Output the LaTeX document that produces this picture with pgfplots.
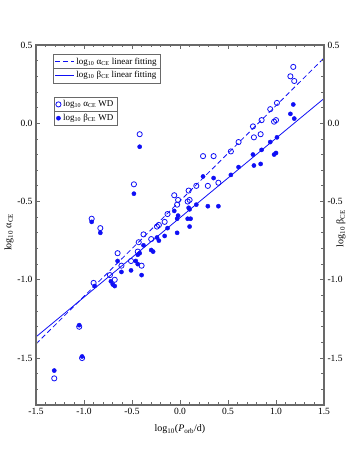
\documentclass[border=0pt]{standalone}
\usepackage{fontspec}
\setmainfont{Liberation Serif}
\usepackage{pgfplots}
\pgfplotsset{compat=1.18}
\definecolor{axgray}{RGB}{105,105,105}
\definecolor{ptblue}{RGB}{15,15,245}
\newcommand{\mylogten}{log\textsubscript{10}}

\pgfplotsset{
  frame/.style={
    scale only axis, width=288pt, height=360pt,
    xmin=-1.5, xmax=1.5, ymin=-1.8, ymax=0.5,
    xtick={-1.5,-1,-0.5,0,0.5,1,1.5},
    ytick={-1.5,-1,-0.5,0,0.5},
    minor xtick={-1.4,-1.3,-1.2,-1.1,-0.9,-0.8,-0.7,-0.6,-0.4,-0.3,-0.2,-0.1,
                 0.1,0.2,0.3,0.4,0.6,0.7,0.8,0.9,1.1,1.2,1.3,1.4},
    minor ytick={-1.7,-1.6,-1.4,-1.3,-1.2,-1.1,-0.9,-0.8,-0.7,-0.6,-0.4,-0.3,-0.2,-0.1,
                 0.1,0.2,0.3,0.4},
    tick align=inside,
    major tick length=4.5pt, minor tick length=2.5pt,
    axis line style={axgray, line width=1.3pt},
    every tick/.style={axgray, line width=0.8pt},
    /pgf/number format/assume math mode=true,
    ticklabel style={font=\fontsize{9.5}{11}\selectfont,
      /pgf/number format/fixed, /pgf/number format/fixed zerofill,
      /pgf/number format/precision=1},
    legend cell align=left,
    clip=false,
  },
}

\begin{document}
\begin{tikzpicture}
\begin{axis}[frame,
    xlabel={\mylogten(\textit{P}\textsubscript{orb}/d)},
    xlabel style={at={(axis description cs:0.5,-0.067)}, anchor=center},
    ylabel={\mylogten\ α\textsubscript{CE}},
    ylabel style={at={(axis description cs:-0.094,0.48)}, anchor=center},
    legend style={at={(axis description cs:0.06,0.975)}, anchor=north west,
      draw=axgray, font=\fontsize{9}{10}\selectfont, name=legA,
      inner sep=1.5pt, row sep=2pt},
    legend image code/.code={\draw[#1, draw=ptblue, line width=1pt] (0cm,0cm) -- (0.65cm,0cm);},
  ]
  \addplot[color=ptblue, line width=0.8pt, dash pattern=on 5pt off 3pt]
    coordinates {(-1.5,-1.41) (1.5,0.417)};
  \addplot[color=ptblue, line width=0.8pt]
    coordinates {(-1.5,-1.365) (1.5,0.158)};
  \legend{{\mylogten\ α\textsubscript{CE} linear fitting},
          {\mylogten\ β\textsubscript{CE} linear fitting}}
  \coordinate (bbSW) at (axis description cs:-0.125,-0.125);
  \coordinate (bbNE) at (axis description cs:1.125,1.125);
\end{axis}

\begin{axis}[frame,
    yticklabel pos=right,
    xticklabels={},
    ylabel={\mylogten\ β\textsubscript{CE}},
    ylabel style={at={(axis description cs:1.059,0.49)}, anchor=center},
    legend style={at={(axis description cs:0.063,0.856)}, anchor=north west,
      draw=axgray, font=\fontsize{9}{10}\selectfont, name=legB,
      inner sep=1.5pt, row sep=2pt},
  ]
  % log10 alpha_CE (open)
  \addplot[only marks, mark=o, mark size=2.6pt, ptblue, line width=0.8pt]
    coordinates {
    (-1.31,-1.63) (-1.02,-1.50) (-1.05,-1.30) (-0.90,-1.02) (-0.92,-0.61)
    (-0.83,-0.67) (-0.73,-0.97) (-0.68,-1.00) (-0.65,-0.83) (-0.61,-0.91)
    (-0.51,-0.88) (-0.48,-0.39) (-0.44,-0.82) (-0.43,-0.76) (-0.42,-0.07)
    (-0.40,-0.91) (-0.38,-0.71) (-0.30,-0.74) (-0.24,-0.66) (-0.22,-0.65)
    (-0.16,-0.63) (-0.13,-0.58) (-0.06,-0.46) (-0.03,-0.52) (-0.02,-0.49)
    (0.09,-0.43) (0.08,-0.50) (0.10,-0.49) (0.17,-0.40) (0.24,-0.21)
    (0.29,-0.40) (0.35,-0.21) (0.40,-0.38) (0.53,-0.18) (0.61,-0.12)
    (0.76,-0.02) (0.77,-0.09) (0.84,-0.07) (0.85,0.02) (0.94,0.09)
    (0.98,0.01) (1.00,0.02) (1.01,0.13) (1.15,0.30) (1.18,0.36) (1.19,0.27)
    };
  % log10 beta_CE (filled)
  \addplot[only marks, mark=*, mark size=2.1pt, ptblue]
    coordinates {
    (-1.31,-1.58) (-1.02,-1.49) (-1.05,-1.29) (-0.89,-1.04) (-0.92,-0.63)
    (-0.83,-0.70) (-0.72,-1.01) (-0.70,-1.03) (-0.68,-1.04) (-0.65,-0.88)
    (-0.61,-0.95) (-0.51,-0.94) (-0.48,-0.45) (-0.46,-0.88) (-0.44,-0.84)
    (-0.44,-0.90) (-0.42,-0.83) (-0.42,-0.15) (-0.40,-0.97) (-0.38,-0.78)
    (-0.30,-0.81) (-0.28,-0.82) (-0.24,-0.73) (-0.22,-0.75) (-0.16,-0.72)
    (-0.13,-0.67) (-0.06,-0.56) (-0.03,-0.70) (-0.02,-0.59) (-0.03,-0.61)
    (0.09,-0.54) (0.10,-0.55) (0.08,-0.61) (0.11,-0.61) (0.10,-0.66)
    (0.17,-0.52) (0.24,-0.34) (0.29,-0.53) (0.35,-0.35) (0.40,-0.53)
    (0.53,-0.33) (0.61,-0.28) (0.76,-0.20) (0.77,-0.27) (0.84,-0.26)
    (0.85,-0.17) (0.94,-0.12) (0.98,-0.20) (1.00,-0.19) (1.01,-0.09)
    (1.15,0.06) (1.18,0.12) (1.19,0.03)
    };
  \legend{{\mylogten\ α\textsubscript{CE} WD}, {\mylogten\ β\textsubscript{CE} WD}}
\end{axis}
\draw[axgray, line width=0.6pt] (legA.west) -- (legA.east);
\draw[axgray, line width=0.6pt] (legB.west) -- (legB.east);
\path (bbSW) rectangle (bbNE);
\end{tikzpicture}
\end{document}
